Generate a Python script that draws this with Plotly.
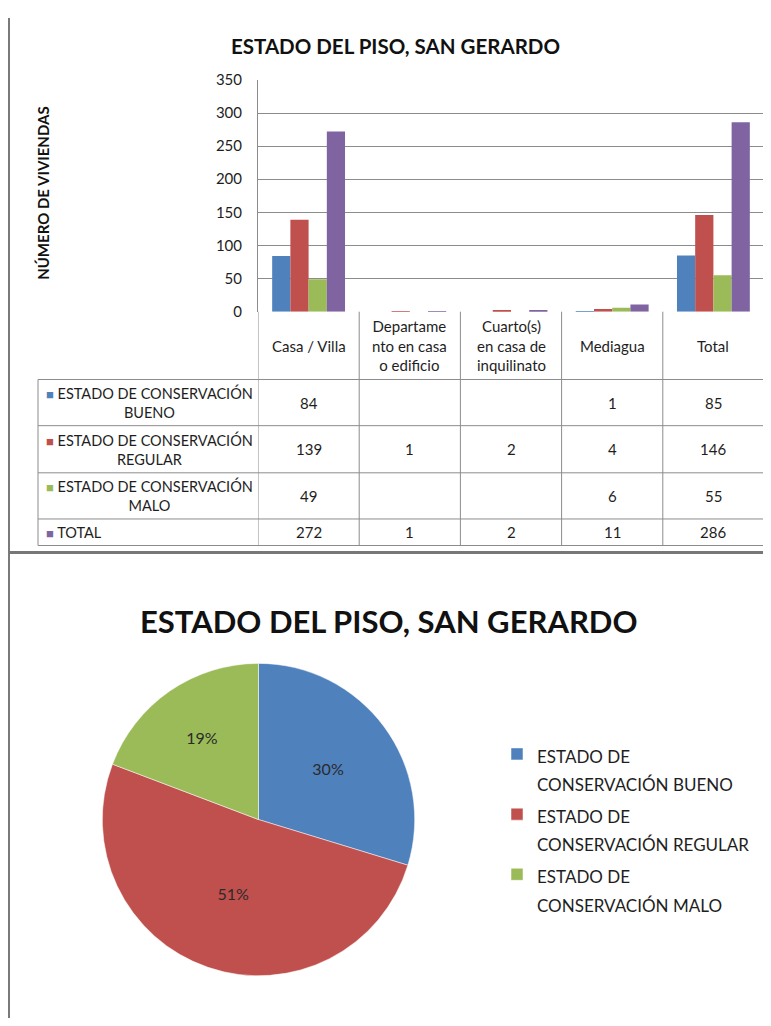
import plotly.graph_objects as go

# datos del grafico
categories = ["Casa / Villa", "Departamento en casa o edificio",
              "Cuarto(s) en casa de inquilinato", "Mediagua", "Total"]
category_labels = ["Casa / Villa", "Departame<br>nto en casa<br>o edificio",
                   "Cuarto(s)<br>en casa de<br>inquilinato", "Mediagua", "Total"]
series_labels = ["ESTADO DE CONSERVACIÓN<br>BUENO",
                 "ESTADO DE CONSERVACIÓN<br>REGULAR",
                 "ESTADO DE CONSERVACIÓN<br>MALO",
                 "TOTAL"]
bueno = [84, None, None, 1, 85]
regular = [139, 1, 2, 4, 146]
malo = [49, None, None, 6, 55]
total = [272, 1, 2, 11, 286]
y_ticks = [0, 50, 100, 150, 200, 250, 300, 350]

pie_labels = ["ESTADO DE<br>CONSERVACIÓN BUENO",
              "ESTADO DE<br>CONSERVACIÓN REGULAR",
              "ESTADO DE<br>CONSERVACIÓN MALO"]
pie_values = [bueno[-1], regular[-1], malo[-1]]

colors = ["#4F81BD", "#C0504D", "#9BBB59", "#8064A2"]
FONT = "Lato"
TXT = "#1e1e1e"
GRID = "#8c8c8c"

# la pagina deja 8px de margen en el body
OFF = 8
FW, FH = 771 - OFF, 1026 - OFF


def px(x):
    return (x - OFF) / FW


def py(y):
    return 1 - (y - OFF) / FH


fig = go.Figure()

series = [bueno, regular, malo, total]
for vals, name, col in zip(series, series_labels, colors):
    fig.add_trace(go.Bar(
        x=categories, y=vals, name=name.replace("<br>", " "),
        marker_color=col, marker_line_width=0, showlegend=False,
    ))

fig.add_trace(go.Pie(
    labels=[f'<span style="font-size:17px">{l}</span>' for l in pie_labels],
    values=pie_values,
    marker=dict(colors=colors[:3], line=dict(color="white", width=0.5)),
    sort=False, direction="clockwise", rotation=0,
    texttemplate="%{percent:.0%}", textposition="inside",
    insidetextorientation="horizontal",
    textfont=dict(family=FONT, size=16, color="#2a2a2a"),
    domain=dict(x=[px(101), px(416)], y=[py(983), py(665)]),
))

# tabla de datos bajo el grafico de barras
rows_y = [399.5, 447, 494.5, 531.5]
annotations = []
for lab, col, yc in zip(series_labels, colors, rows_y):
    annotations.append(dict(
        x=px(44), y=py(yc), xref="paper", yref="paper",
        xanchor="left", yanchor="middle", align="center", showarrow=False,
        text=f'<span style="color:{col};font-size:13px">■</span> {lab}',
        font=dict(family=FONT, size=14.5, color=TXT),
    ))
for vals, yc in zip(series, rows_y):
    for cat, v in zip(categories, vals):
        if v is None:
            continue
        annotations.append(dict(
            x=cat, y=py(yc), xref="x", yref="paper", showarrow=False,
            xanchor="center", yanchor="middle", text=str(v),
            font=dict(family=FONT, size=15, color=TXT),
        ))
for cat, lab in zip(categories, category_labels):
    annotations.append(dict(
        x=cat, y=py(341.5), xref="x", yref="paper", showarrow=False,
        xanchor="center", yanchor="middle", text=lab,
        font=dict(family=FONT, size=15, color=TXT),
    ))

annotations += [
    dict(x=px(395), y=py(36), xref="paper", yref="paper", showarrow=False,
         xanchor="center", yanchor="middle",
         text="<b>ESTADO DEL PISO, SAN GERARDO</b>",
         font=dict(family=FONT, size=20.5, color="#111")),
    dict(x=px(43), y=py(186), xref="paper", yref="paper", showarrow=False,
         xanchor="center", yanchor="middle",
         textangle=-90, text="<b>NÚMERO DE VIVIENDAS</b>",
         font=dict(family=FONT, size=15, color="#111")),
    dict(x=px(388), y=py(622), xref="paper", yref="paper", showarrow=False,
         xanchor="center", yanchor="middle",
         text="<b>ESTADO DEL PISO, SAN GERARDO</b>",
         font=dict(family=FONT, size=31, color="#111")),
]

line = dict(color=GRID, width=1)
shapes = []
# lineas horizontales de la tabla
for yy in [376, 423, 471, 518, 545]:
    shapes.append(dict(type="line", xref="paper", yref="paper",
                       x0=px(38), x1=px(764), y0=py(yy), y1=py(yy), line=line))
shapes.append(dict(type="line", xref="paper", yref="paper",
                   x0=px(38), x1=px(38), y0=py(376), y1=py(545), line=line))
# lineas verticales entre categorias
for k in range(len(categories) + 1):
    shapes.append(dict(type="line", xref="x", yref="paper",
                       x0=k - 0.5, x1=k - 0.5, y0=py(307), y1=py(545), line=line))
# marcos de los paneles
frame = dict(color="#7a7a7a", width=2)
shapes += [
    dict(type="line", xref="paper", yref="paper", x0=px(9), x1=px(9),
         y0=0, y1=1, line=frame),
    dict(type="line", xref="paper", yref="paper", x0=px(9), x1=1,
         y0=py(552), y1=py(552), line=dict(color="#777", width=3)),
    dict(type="line", xref="paper", yref="paper", x0=px(768), x1=px(768),
         y0=0, y1=py(552), line=frame),
]

fig.update_layout(
    width=FW, height=FH,
    margin=dict(l=0, r=0, t=0, b=0),
    paper_bgcolor="white", plot_bgcolor="white",
    barmode="group", bargap=0.28, bargroupgap=0,
    font=dict(family=FONT, size=15, color=TXT),
    xaxis=dict(domain=[px(258), px(764)], type="category",
               range=[-0.5, 4.5], showticklabels=False, ticks="",
               showgrid=False, zeroline=False, showline=False),
    yaxis=dict(domain=[py(307), py(71)], range=[0, 350],
               tickvals=y_ticks, showgrid=True, gridcolor=GRID, gridwidth=1,
               zeroline=False, showline=True, linecolor=GRID, linewidth=1,
               ticks="", ticklabelstandoff=12,
               tickfont=dict(family=FONT, size=15, color=TXT)),
    legend=dict(x=px(497), y=py(736), xanchor="left", yanchor="top",
                valign="top", bgcolor="rgba(0,0,0,0)",
                font=dict(family=FONT, size=22, color=TXT)),
    annotations=annotations,
    shapes=shapes,
)

fig.write_html("out.html")
